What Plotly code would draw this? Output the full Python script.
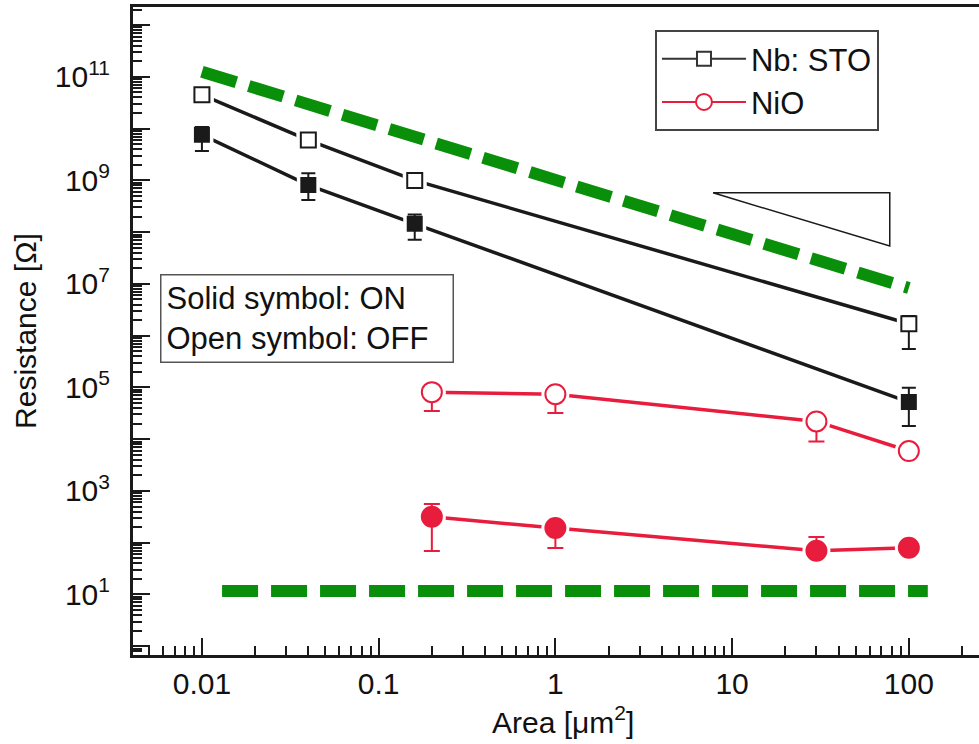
import math
import plotly.graph_objects as go

# ---------------- data ----------------
area_nbsto = [0.01, 0.04, 0.16, 100]
res_nbsto_off = [4.5e10, 6.0e9, 1.0e9, 1.7e6]
res_nbsto_off_hi = [4.5e10, 6.0e9, 1.0e9, 2.4e6]
res_nbsto_off_lo = [4.5e10, 6.0e9, 1.0e9, 5.5e5]
res_nbsto_on = [7.6e9, 8.1e8, 1.45e8, 5.2e4]
res_nbsto_on_hi = [1.07e10, 1.38e9, 2.2e8, 9.8e4]
res_nbsto_on_lo = [3.7e9, 4.2e8, 7.1e7, 1.8e4]

area_nio = [0.2, 1, 30, 100]
res_nio_off = [8.1e4, 7.4e4, 2.2e4, 5.9e3]
res_nio_off_hi = [8.1e4, 7.4e4, 2.2e4, 5.9e3]
res_nio_off_lo = [3.5e4, 3.2e4, 9.0e3, 5.9e3]
res_nio_on = [316, 192, 70, 80]
res_nio_on_hi = [560, 192, 129, 80]
res_nio_on_lo = [69, 79, 70, 80]

green_upper_x = [0.01, 100]
green_upper_y = [1.26e11, 8.3e6]
green_lower_x = [0.013, 128]
green_lower_y = [11.7, 11.7]

tri_x = [7.8, 78, 78, 7.8]
tri_y = [5.75e8, 5.75e8, 5.4e7, 5.75e8]

y_tick_vals = [10.0 ** k for k in range(0, 13)]
y_tick_text = ["10<sup>%d</sup>" % k if k % 2 == 1 else "" for k in range(0, 13)]
x_tick_vals = [0.01, 0.1, 1, 10, 100]
x_tick_text = ["0.01", "0.1", "1", "10", "100"]

# ---------------- styles ----------------
BLACK = "#1a1a1a"
RED = "#e81c3c"
GREEN = "#0a8f0a"
FONT = "Liberation Sans, Arial, Helvetica, sans-serif"
FS = 30
FS_BOX = 31


def err(vals, hi, lo):
    plus = [h - v for v, h in zip(vals, hi)]
    minus = [v - l for v, l in zip(vals, lo)]
    return plus, minus


fig = go.Figure()


def add_series(x, y, hi, lo, color, symbol, filled, size, halo, capw):
    # connecting line
    fig.add_trace(go.Scatter(x=x, y=y, mode="lines", line=dict(color=color, width=3.5),
                             showlegend=False, hoverinfo="skip"))
    # white halo to create the gap between line and marker
    fig.add_trace(go.Scatter(x=x, y=y, mode="markers",
                             marker=dict(symbol=symbol, size=halo, color="white",
                                         line=dict(width=0)),
                             showlegend=False, hoverinfo="skip"))
    plus, minus = err(y, hi, lo)
    fig.add_trace(go.Scatter(
        x=x, y=y, mode="markers",
        marker=dict(symbol=symbol, size=size, color=color if filled else "white",
                    line=dict(color=color, width=2)),
        error_y=dict(type="data", symmetric=False, array=plus, arrayminus=minus,
                     color=color, thickness=2, width=capw),
        showlegend=False))


add_series(area_nbsto, res_nbsto_off, res_nbsto_off_hi, res_nbsto_off_lo, BLACK, "square", False, 15, 24, 7)
add_series(area_nbsto, res_nbsto_on, res_nbsto_on_hi, res_nbsto_on_lo, BLACK, "square", True, 14, 23, 7)
add_series(area_nio, res_nio_off, res_nio_off_hi, res_nio_off_lo, RED, "circle", False, 20, 28, 8)
add_series(area_nio, res_nio_on, res_nio_on_hi, res_nio_on_lo, RED, "circle", True, 20, 28, 8)

# legend entries
fig.add_trace(go.Scatter(x=[None], y=[None], mode="lines+markers", name="Nb: STO",
                         line=dict(color="#333333", width=2),
                         marker=dict(symbol="square", size=14, color="white",
                                     line=dict(color="#333333", width=2))))
fig.add_trace(go.Scatter(x=[None], y=[None], mode="lines+markers", name="NiO",
                         line=dict(color=RED, width=2),
                         marker=dict(symbol="circle", size=16, color="white",
                                     line=dict(color=RED, width=2))))

# slope triangle
fig.add_trace(go.Scatter(x=tri_x, y=tri_y, mode="lines", line=dict(color=BLACK, width=1.5),
                         showlegend=False, hoverinfo="skip"))

# green dashed guide lines
for gx, gy in [(green_upper_x, green_upper_y), (green_lower_x, green_lower_y)]:
    fig.add_trace(go.Scatter(x=gx, y=gy, mode="lines",
                             line=dict(color=GREEN, width=12, dash="36px,13px"),
                             showlegend=False, hoverinfo="skip"))

# minor ticks
x_minor = [m * 10.0 ** k for k in range(-3, 3) for m in range(2, 10)]
y_minor = [m * 10.0 ** k for k in range(-1, 13) for m in range(2, 10)]

fig.update_layout(
    width=979, height=744,
    margin=dict(l=133, r=0, t=7, b=89),
    paper_bgcolor="white", plot_bgcolor="white",
    font=dict(family=FONT, size=FS, color="#111111"),
    showlegend=True,
    legend=dict(x=0.617, y=0.9645, xanchor="left", yanchor="top",
                bordercolor="#444444", borderwidth=2, bgcolor="white",
                font=dict(family=FONT, size=FS_BOX, color="#111111"),
                itemwidth=84, tracegroupgap=0),
    xaxis=dict(type="log", range=[math.log10(0.01) - 0.39, math.log10(100) + 0.397],
               showgrid=False, zeroline=False,
               showline=True, linecolor=BLACK, linewidth=3, mirror=True,
               ticks="inside", ticklen=17, tickwidth=1.5, tickcolor=BLACK,
               tickmode="array", tickvals=x_tick_vals, ticktext=x_tick_text,
               ticklabelstandoff=0,
               minor=dict(ticks="inside", ticklen=9, tickwidth=1.5, tickcolor=BLACK,
                          tickmode="array", tickvals=x_minor),
               automargin=False),
    yaxis=dict(type="log", range=[-0.17, 12.35],
               showgrid=False, zeroline=False,
               showline=True, linecolor=BLACK, linewidth=3, mirror=False,
               ticks="inside", ticklen=17, tickwidth=1.5, tickcolor=BLACK,
               tickmode="array", tickvals=y_tick_vals, ticktext=y_tick_text,
               ticklabelstandoff=14,
               minor=dict(ticks="inside", ticklen=9, tickwidth=1.5, tickcolor=BLACK,
                          tickmode="array", tickvals=y_minor),
               title=dict(text="Resistance [Ω]", standoff=10,
                          font=dict(family=FONT, size=FS)),
               automargin=False),
    annotations=[
        dict(text="Solid symbol: ON<br>Open symbol: OFF",
             xref="paper", yref="paper", x=0.032, y=0.588, xanchor="left", yanchor="top",
             align="left", valign="middle", showarrow=False, width=281, height=76,
             font=dict(family=FONT, size=FS_BOX, color="#111111"),
             bordercolor="#555555", borderwidth=1.5, borderpad=5, bgcolor="white"),
        dict(text="Area [μm<sup>2</sup>]", xref="paper", yref="paper",
             x=0.508, y=-0.1, xanchor="center", yanchor="middle", showarrow=False,
             font=dict(family=FONT, size=FS, color="#111111")),
    ],
)

fig.write_html("out.html", post_script="document.body.style.margin='0';",
               config={"displayModeBar": False})
